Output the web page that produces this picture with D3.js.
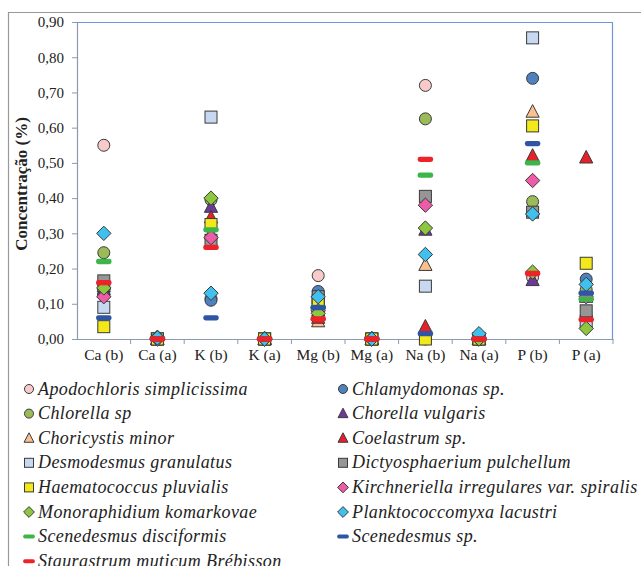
<!DOCTYPE html>
<html><head><meta charset="utf-8">
<script src="https://cdn.jsdelivr.net/npm/d3@7"></script>
<style>body{margin:0;background:#fff}svg{display:block}svg text{font-family:"Liberation Serif","Times New Roman","DejaVu Serif",serif}</style>
</head><body><svg id="c" width="641" height="566"></svg>
<script>
const categories = ["Ca (b)","Ca (a)","K (b)","K (a)","Mg (b)","Mg (a)","Na (b)","Na (a)","P (b)","P (a)"];
const yTicks = [0,0.1,0.2,0.3,0.4,0.5,0.6,0.7,0.8,0.9];
const seriesNames = ["Apodochloris simplicissima","Chlamydomonas sp.","Chlorella sp","Chorella vulgaris","Choricystis minor","Coelastrum sp.","Desmodesmus granulatus","Dictyosphaerium pulchellum","Haematococcus pluvialis","Kirchneriella irregulares var. spiralis","Monoraphidium komarkovae","Planktococcomyxa lacustri","Scenedesmus disciformis","Scenedesmus sp.","Staurastrum muticum Brébisson"];
const apodochloris   = [0.55,0,0.115,0,0.18,0,0.72,0,0.175,0.12];
const chlamydomonas  = [0.13,0,0.11,0,0.135,0,0.0,0,0.74,0.17];
const chlorella      = [0.245,0,0.395,0,0.10,0,0.625,0,0.39,0.14];
const chorella       = [0.14,0,0.375,0,0.08,0,0.31,0,0.167,0.12];
const choricystis    = [0.15,0,0.30,0,0.05,0,0.21,0,0.645,0.12];
const coelastrum     = [0.155,0,0.345,0,0.06,0,0.035,0,0.52,0.515];
const desmodesmus    = [0.09,0,0.63,0,0.11,0,0.15,0,0.855,0.05];
const dictyosphaerium= [0.165,0,0.28,0,0.12,0,0.405,0,0.36,0.08];
const haematococcus  = [0.035,0,0.325,0,0.103,0,0.0,0,0.605,0.215];
const kirchneriella  = [0.12,0,0.288,0,0.08,0,0.38,0,0.45,0.12];
const monoraphidium  = [0.145,0.005,0.40,0,0.073,0,0.315,0,0.19,0.03];
const planktococco   = [0.30,0.003,0.13,0,0.12,0,0.24,0.015,0.355,0.155];
const scenDisc       = [0.22,0,0.31,0,0.09,0,0.465,0,0.50,0.113];
const scenSp         = [0.06,0,0.06,0,0.089,0,0.015,0,0.555,0.13];
const staurastrum    = [0.16,0,0.26,0,0.057,0,0.51,0,0.186,0.055];

const seriesValues = [apodochloris,chlamydomonas,chlorella,chorella,choricystis,coelastrum,desmodesmus,dictyosphaerium,haematococcus,kirchneriella,monoraphidium,planktococco,scenDisc,scenSp,staurastrum];
const styles = [
 {shape:"circle",fill:"#F9CACA"},
 {shape:"circle",fill:"#4F81BD"},
 {shape:"circle",fill:"#9BBB59"},
 {shape:"triangle",fill:"#6B3A96"},
 {shape:"triangle",fill:"#FAC090"},
 {shape:"triangle",fill:"#E8202A"},
 {shape:"square",fill:"#C6D9F1"},
 {shape:"square",fill:"#969696"},
 {shape:"square",fill:"#F2E81A"},
 {shape:"diamond",fill:"#EE5BA6"},
 {shape:"diamond",fill:"#8DC63F"},
 {shape:"diamond",fill:"#40C0EE"},
 {shape:"bar",fill:"#3CB54A"},
 {shape:"bar",fill:"#2F55A4"},
 {shape:"bar",fill:"#EE2229"}
];
const FONT = "'Liberation Serif','Times New Roman','DejaVu Serif',serif";

const svg = d3.select("#c");
const margin = {left:77, top:22, right:613, bottom:339};
const x = d3.scaleBand().domain(categories).range([margin.left, margin.right]);
const y = d3.scaleLinear().domain([0,0.9]).range([margin.bottom, margin.top]);

// outer border
svg.append("path").attr("d","M8.5,566 V12.5 H641").attr("fill","none").attr("stroke","#999").attr("stroke-width",1.2);
// plot area border
svg.append("path").attr("d",`M${margin.left},${margin.top+0.5} H${margin.right-0.5} V${margin.bottom}`).attr("fill","none").attr("stroke","#6F96D0").attr("stroke-width",1.2);

// y axis
const yAxis = svg.append("g").attr("transform",`translate(${margin.left},0)`)
  .call(d3.axisLeft(y).tickValues(yTicks).tickSize(5).tickPadding(8).tickFormat(d=>d3.format(".2f")(d).replace(".",",")));
yAxis.attr("font-family",FONT);
yAxis.select(".domain").attr("stroke","#8A9AB0").attr("stroke-width",1.2);
yAxis.selectAll(".tick line").attr("stroke","#8A9AB0");
yAxis.selectAll("text").style("font-family",FONT).attr("font-size",15).attr("fill","#222");

// x axis
const xAxis = svg.append("g").attr("transform",`translate(0,${margin.bottom})`)
  .call(d3.axisBottom(x).tickSize(0).tickPadding(10));
xAxis.attr("font-family",FONT);
xAxis.select(".domain").attr("stroke","#8A9AB0").attr("stroke-width",1.2);
xAxis.selectAll("text").style("font-family",FONT).attr("font-size",15.5).attr("fill","#222");
// category separator ticks
svg.append("g").selectAll("line").data(categories).join("line")
  .attr("x1",(d,i)=>margin.left + x.step()*(i+1)).attr("x2",(d,i)=>margin.left + x.step()*(i+1))
  .attr("y1",margin.bottom).attr("y2",margin.bottom+5).attr("stroke","#8A9AB0");

// y title
svg.append("text").attr("transform","translate(27,184) rotate(-90)").attr("text-anchor","middle")
  .style("font-family",FONT).attr("font-weight","bold").attr("font-size",17).attr("fill","#222")
  .text("Concentração (%)");

function drawMarker(g, shape, fill, cx, cy, s){
  const st = "#3a3a3a";
  if(shape==="circle") g.append("circle").attr("cx",cx).attr("cy",cy).attr("r",s/2).attr("fill",fill).attr("stroke",st).attr("stroke-width",1);
  else if(shape==="square") g.append("rect").attr("x",cx-s/2).attr("y",cy-s/2).attr("width",s).attr("height",s).attr("fill",fill).attr("stroke",st).attr("stroke-width",1);
  else if(shape==="triangle") g.append("path").attr("d",`M${cx},${cy-s*0.6} L${cx+s*0.55},${cy+s*0.45} L${cx-s*0.55},${cy+s*0.45}Z`).attr("fill",fill).attr("stroke",st).attr("stroke-width",1);
  else if(shape==="diamond") g.append("path").attr("d",`M${cx},${cy-s*0.6} L${cx+s*0.6},${cy} L${cx},${cy+s*0.6} L${cx-s*0.6},${cy}Z`).attr("fill",fill).attr("stroke",st).attr("stroke-width",1);
  else if(shape==="bar") g.append("rect").attr("x",cx-s*0.65).attr("y",cy-s*0.22).attr("width",s*1.3).attr("height",s*0.44).attr("rx",s*0.2).attr("fill",fill);
}

const marks = svg.append("g");
seriesValues.forEach((vals,si)=>{
  const g = marks.append("g");
  vals.forEach((v,ci)=>{
    drawMarker(g, styles[si].shape, styles[si].fill, x(categories[ci])+x.bandwidth()/2, y(v), 12);
  });
});

// legend
const leg = svg.append("g");
seriesNames.forEach((name,i)=>{
  const col = i%2, row = Math.floor(i/2);
  const mx = col===0 ? 29 : 343;
  const cy = 389 + row*24.6;
  drawMarker(leg, styles[i].shape, styles[i].fill, mx, cy, 9);
  leg.append("text").attr("x", mx+9).attr("y", cy+5.5)
    .style("font-family",FONT).attr("font-style","italic").attr("font-size",18).attr("fill","#222")
    .attr("letter-spacing",0.4).text(name);
});
</script></body></html>
